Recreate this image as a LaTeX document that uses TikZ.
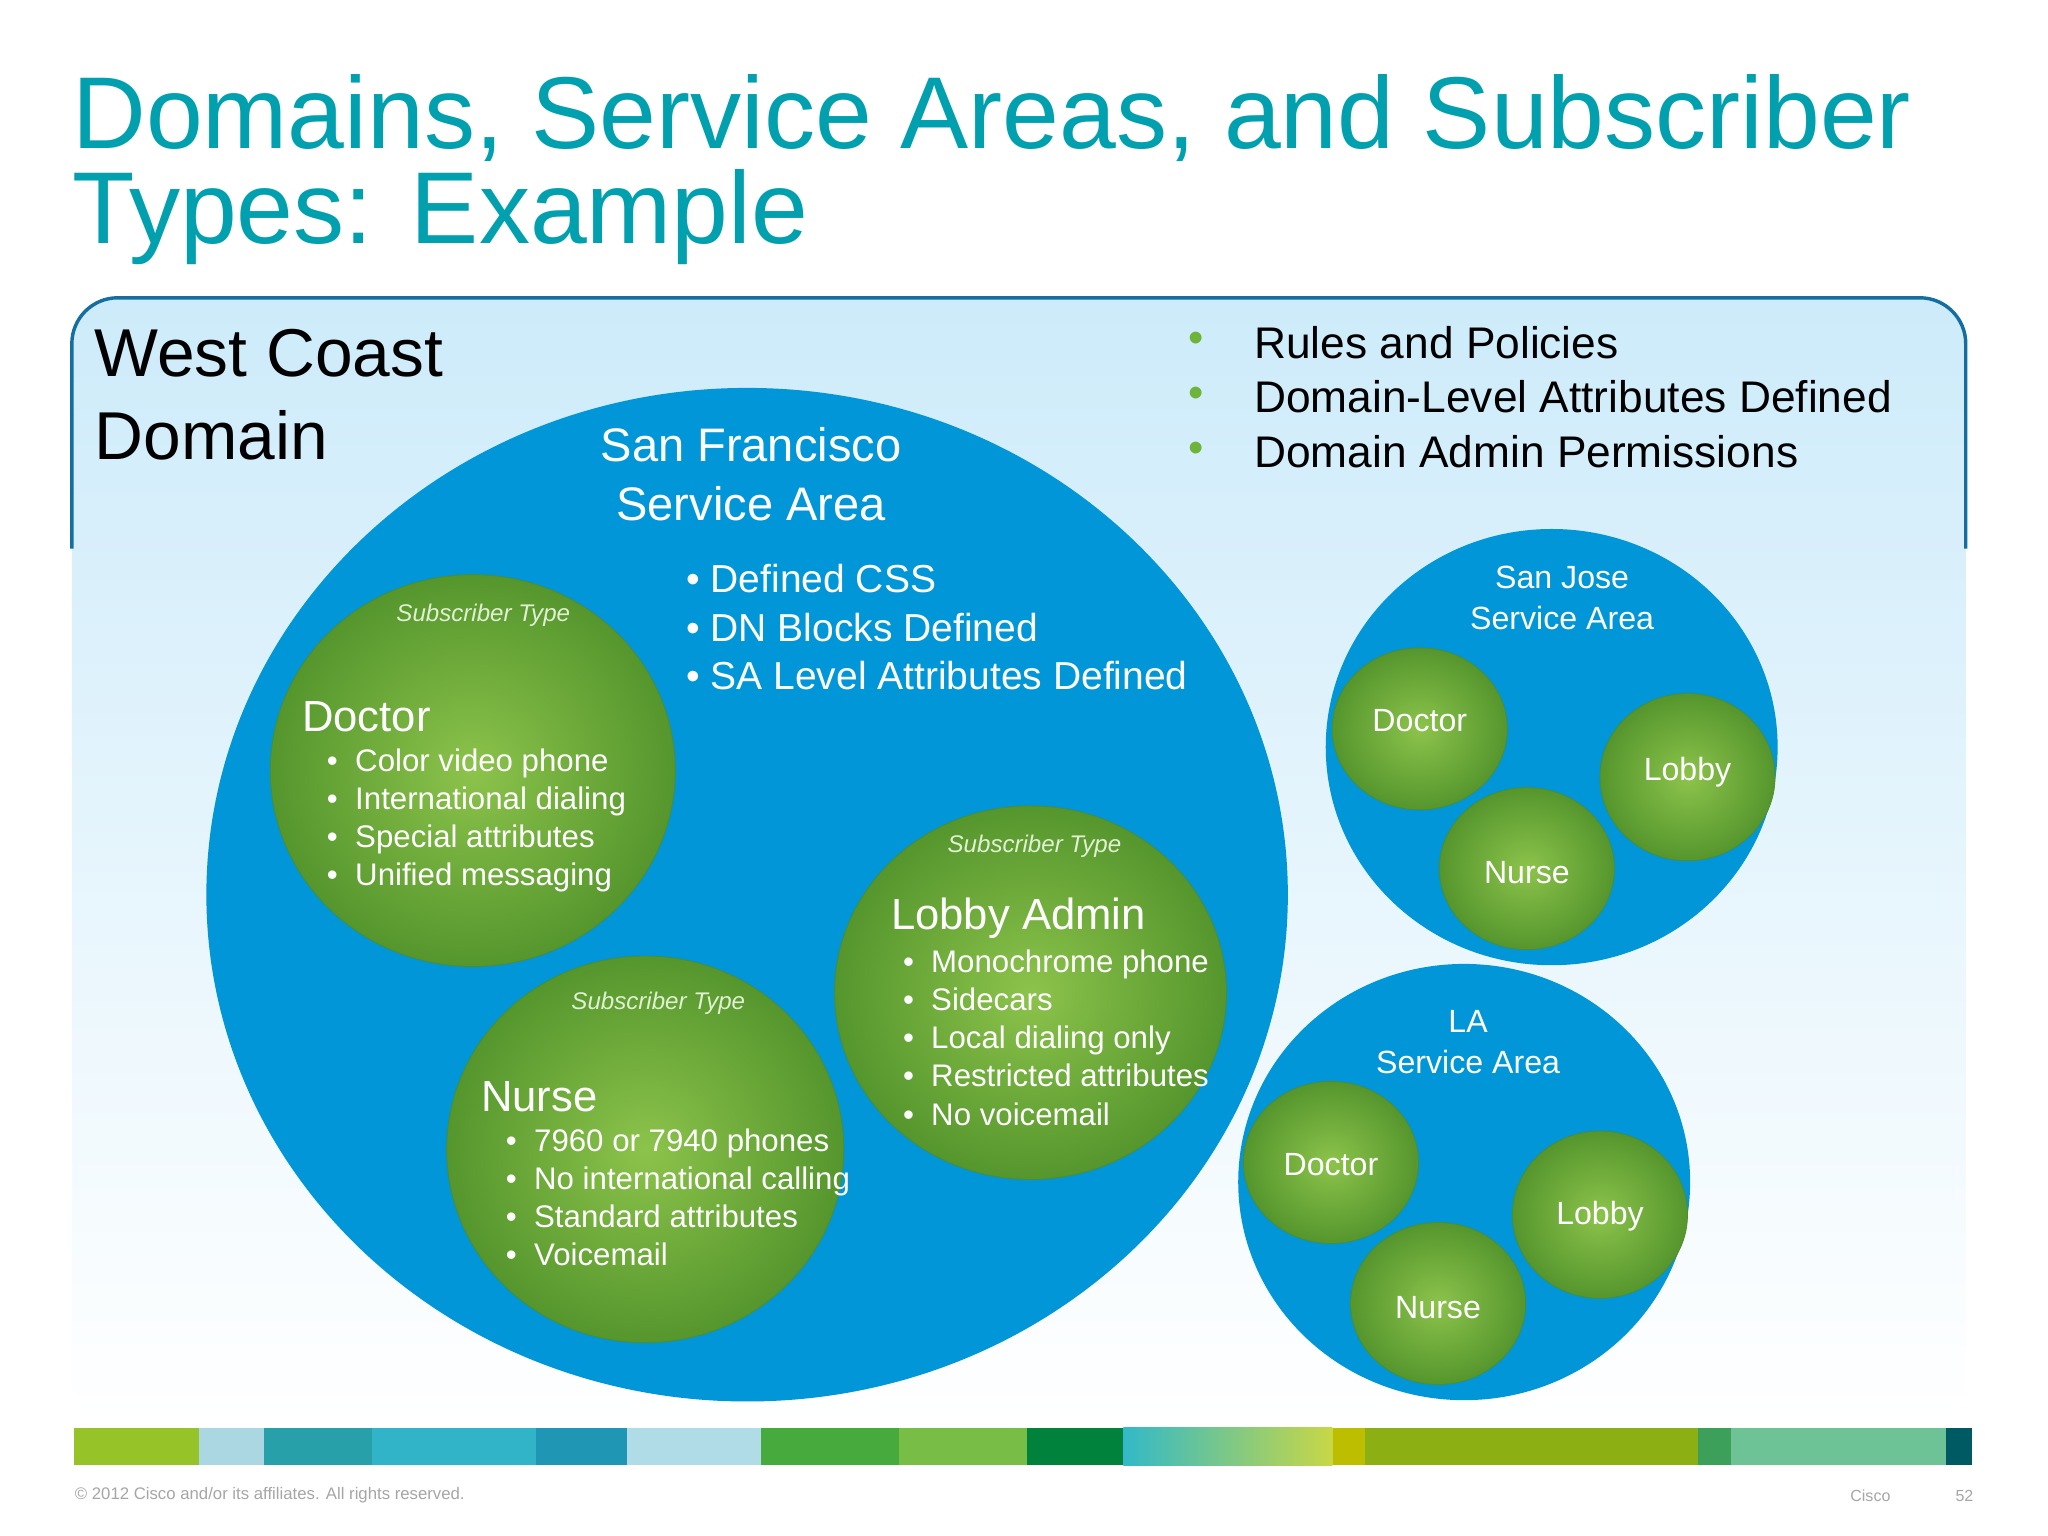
\documentclass[tikz,border=0pt]{standalone}
\usepackage{fontspec}
\setmainfont{Liberation Sans}
\begin{document}
\begin{tikzpicture}[x=0.02cm,y=-0.02cm,
  sa/.style={fill={rgb,255:red,0;green,150;blue,215}},
  gr/.style={inner color={rgb,255:red,140;green,195;blue,75},outer color={rgb,255:red,85;green,150;blue,45},draw={rgb,255:red,80;green,140;blue,40},line width=0.3pt},
  wt/.style={text=white,inner sep=0pt},
  bl/.style={wt,align=left,anchor=north west,font=\fontsize{13.6pt}{16.6pt}\selectfont},
  st/.style={wt,font=\fontsize{10.5pt}{12pt}\selectfont\itshape,text={rgb,255:red,225;green,240;blue,210}},
  hd/.style={wt,anchor=west,font=\fontsize{19pt}{22pt}\selectfont},
  sm/.style={wt,font=\fontsize{14pt}{16pt}\selectfont},
]
\useasboundingbox (0,0) rectangle (1568,1176);
\fill[white] (0,0) rectangle (1568,1176);
\definecolor{tt}{RGB}{0,160,175}
\node[anchor=west,inner sep=0pt,text=tt,font=\fontsize{44.5pt}{50pt}\selectfont] (t1) at (55,90) {Domains, Service Areas, and Subscriber};
\node[anchor=west,inner sep=0pt,text=tt,font=\fontsize{44.5pt}{50pt}\selectfont] (t2) at (55,166) {Types: Example};
% domain box
\shade[top color={rgb,255:red,205;green,235;blue,250},bottom color=white,rounded corners=20] (55,228) rectangle (1505,1090);
\draw[line width=1.5pt,color={rgb,255:red,20;green,110;blue,160},rounded corners=20] (55,420) -- (55,228) -- (1505,228) -- (1505,420);
\node[anchor=north west,align=left,inner sep=0pt,font=\fontsize{29.5pt}{36pt}\selectfont] (wc) at (72,252) {West Coast\\Domain};
\foreach \t [count=\i] in {Rules and Policies,Domain-Level Attributes Defined,Domain Admin Permissions}{
  \node[anchor=west,inner sep=0pt,font=\fontsize{19.3pt}{22pt}\selectfont] (r\i) at (960,{262+42*(\i-1)}) {\t};
  \node[inner sep=0pt,text={rgb,255:red,110;green,180;blue,60},font=\fontsize{19pt}{16pt}\selectfont] (rb\i) at (916,{262+42*(\i-1)}) {\textbullet};
}
% SF
\path[sa] (572,685) ellipse [x radius=414,y radius=388];
\node[wt,align=center,font=\fontsize{20.5pt}{26pt}\selectfont] (sf) at (575,363) {San Francisco\\Service Area};
\node[bl,font=\fontsize{17pt}{21pt}\selectfont] (sfb) at (525,432) {\textbullet\ Defined CSS\\\textbullet\ DN Blocks Defined\\\textbullet\ SA Level Attributes Defined};
% Doctor
\path[gr] (362,590) ellipse [x radius=155,y radius=150];
\node[st] (ds) at (370,471) {Subscriber Type};
\node[hd] (dh) at (231,549) {Doctor};
\node[bl] (db) at (250,573) {\textbullet\ \ Color video phone\\\textbullet\ \ International dialing\\\textbullet\ \ Special attributes\\\textbullet\ \ Unified messaging};
% Nurse
\path[gr] (494,880) ellipse [x radius=152,y radius=148];
\node[st] (ns) at (504,768) {Subscriber Type};
\node[hd] (nh) at (368,840) {Nurse};
\node[bl] (nb) at (387,864) {\textbullet\ \ 7960 or 7940 phones\\\textbullet\ \ No international calling\\\textbullet\ \ Standard attributes\\\textbullet\ \ Voicemail};
% Lobby admin
\path[gr] (789,760) ellipse [x radius=150,y radius=143];
\node[st] (ls) at (792,648) {Subscriber Type};
\node[hd] (lh) at (682,703) {Lobby Admin};
\node[bl] (lb) at (691,727) {\textbullet\ \ Monochrome phone\\\textbullet\ \ Sidecars\\\textbullet\ \ Local dialing only\\\textbullet\ \ Restricted attributes\\\textbullet\ \ No voicemail};
% San Jose
\path[sa] (1188,572) ellipse [x radius=173,y radius=167];
\node[sm,align=center,font=\fontsize{14pt}{18pt}\selectfont] (sj) at (1196,458) {San Jose\\Service Area};
\path[gr] (1087,558) ellipse [x radius=67,y radius=62]; \node[sm] (sjd) at (1087,552) {Doctor};
\path[gr] (1292,595) ellipse [x radius=67,y radius=64]; \node[sm] (sjl) at (1292,591) {Lobby};
\path[gr] (1169,665) ellipse [x radius=67,y radius=62]; \node[sm] (sjn) at (1169,668) {Nurse};
% LA
\path[sa] (1121,905) ellipse [x radius=173,y radius=167];
\node[sm,align=center,font=\fontsize{14pt}{18pt}\selectfont] (la) at (1124,798) {LA\\Service Area};
\path[gr] (1019,890) ellipse [x radius=67,y radius=62]; \node[sm] (lad) at (1019,892) {Doctor};
\path[gr] (1225,930) ellipse [x radius=67,y radius=64]; \node[sm] (lal) at (1225,931) {Lobby};
\path[gr] (1101,998) ellipse [x radius=67,y radius=62]; \node[sm] (lan) at (1101,1001) {Nurse};
% bar
\foreach \a/\b/\r/\g/\bb in {57/152/150/195/40,152/202/170/215/225,202/285/40/160/170,285/410/50/180/200,410/480/30/150/180,480/583/175/220/230,583/688/70/170/60,688/786/120/190/70,786/860/0/130/60,1020/1045/190/190/0,1045/1300/140/175/20,1300/1325/60/160/90,1325/1490/110/195/150,1490/1510/0/90/100}{
  \fill[color={rgb,255:red,\r;green,\g;blue,\bb}] (\a,1093) rectangle (\b,1122);}
\shade[left color={rgb,255:red,50;green,185;blue,200},right color={rgb,255:red,200;green,215;blue,70}] (860,1093) rectangle (1020,1122);
\node[anchor=west,inner sep=0pt,text=gray!70,font=\fontsize{7.3pt}{8pt}\selectfont] (cp) at (57,1145) {© 2012 Cisco and/or its affiliates. All rights reserved.};
\node[inner sep=0pt,text=gray!70,font=\fontsize{7pt}{8pt}\selectfont] (cc) at (1432,1145) {Cisco};
\node[inner sep=0pt,text=gray!70,font=\fontsize{7pt}{8pt}\selectfont] (pg) at (1504,1145) {52};
\end{tikzpicture}
\end{document}
